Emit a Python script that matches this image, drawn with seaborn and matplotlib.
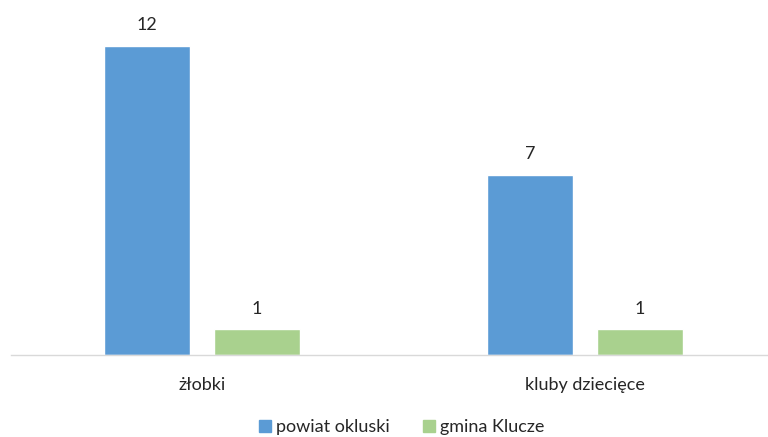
import pandas as pd
import matplotlib.pyplot as plt
import seaborn as sns

# Chart data
categories = ["żłobki", "kluby dziecięce"]
series = ["powiat okluski", "gmina Klucze"]
powiat_values = [12, 7]
gmina_values = [1, 1]

data = pd.DataFrame({
    "Kategoria": categories * 2,
    "Seria": [series[0]] * 2 + [series[1]] * 2,
    "Liczba": powiat_values + gmina_values,
})

sns.set_theme(style="white")
plt.rcParams["font.family"] = ["Lato", "DejaVu Sans"]

palette = {"powiat okluski": "#5B9BD5", "gmina Klucze": "#A9D18E"}

fig = plt.figure(figsize=(7.68, 4.37), dpi=100)
ax = fig.add_axes([0.0137, 0.188, 0.997, 0.707])

sns.barplot(
    data=data, x="Kategoria", y="Liczba", hue="Seria",
    palette=palette, width=0.574, gap=0.218, saturation=1,
    legend=False, ax=ax
)

# Value labels above bars
for container in ax.containers:
    ax.bar_label(container, padding=9, fontsize=13, color="#262626")

ax.set_xlim(-0.5, 1.5)
ax.set_ylim(0, 12)
ax.set_xlabel("")
ax.set_ylabel("")
ax.set_yticks([])
ax.tick_params(axis="x", length=0, pad=16, labelsize=13, labelcolor="#262626")
for side in ["top", "left", "right"]:
    ax.spines[side].set_visible(False)
ax.spines["bottom"].set_color("#D9D9D9")
ax.spines["bottom"].set_linewidth(1)

# Legend at the bottom
handles = [plt.Line2D([], [], marker="s", linestyle="", markersize=8,
                      color=palette[s]) for s in series]
fig.legend(handles, series, loc="center", bbox_to_anchor=(0.52, 0.022),
           ncol=2, frameon=False, fontsize=13, handletextpad=0.0,
           handlelength=1.2, columnspacing=1.6, labelcolor="#262626")

plt.savefig("out.png", dpi=100)
